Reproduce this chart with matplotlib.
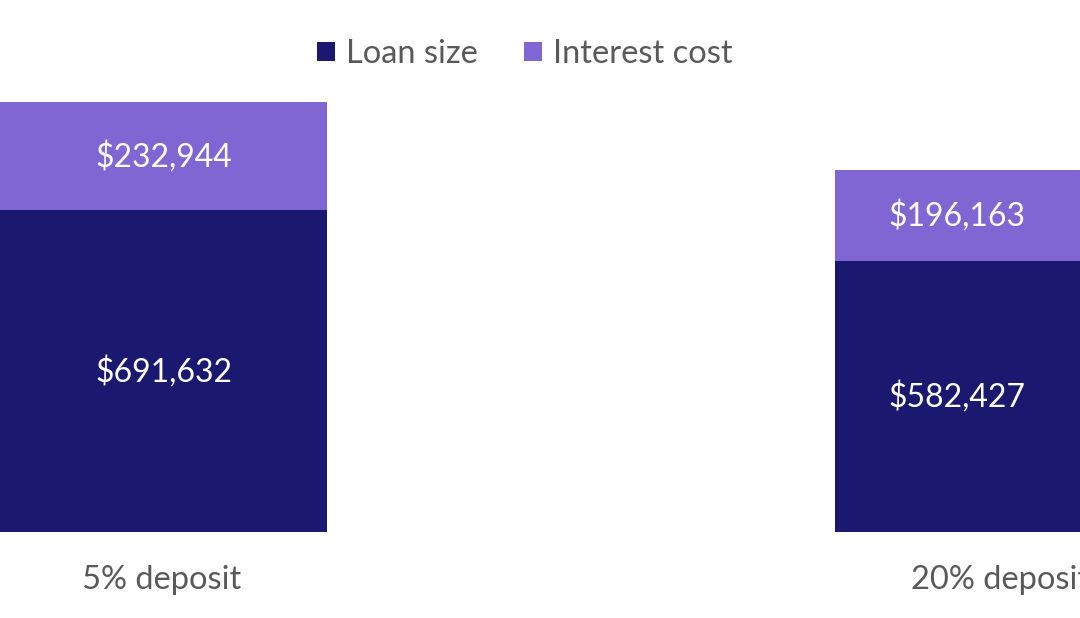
import matplotlib
matplotlib.use('Agg')
import matplotlib.pyplot as plt

plt.rcParams['font.family'] = ['Lato', 'DejaVu Sans']

categories = ['5% deposit', '20% deposit']
loan_size = [691632, 582427]
interest_cost = [232944, 196163]

NAVY = '#1B1870'
PURPLE = '#8066D2'
GRAY = '#595959'

fig = plt.figure(figsize=(10.8, 6.18), dpi=100)
ax = fig.add_axes([0, 86 / 618, 1, 532 / 618])

x = list(range(len(categories)))
b1 = ax.bar(x, loan_size, width=0.394, color=NAVY, label='Loan size')
b2 = ax.bar(x, interest_cost, width=0.394, bottom=loan_size, color=PURPLE,
            label='Interest cost')

for bars in (b1, b2):
    ax.bar_label(bars, labels=[f'${v:,.0f}' for v in bars.datavalues],
                 label_type='center', color='white', fontsize=23)

ax.set_xlim(-0.1933, 1.0955)
ax.set_ylim(0, 1144100)
ax.set_xticks(x)
ax.set_xticklabels(categories, fontsize=23.5, color=GRAY)
ax.tick_params(axis='x', length=0, pad=24)
ax.set_yticks([])
for s in ax.spines.values():
    s.set_visible(False)

fig.legend(handles=[b1, b2], loc='center', bbox_to_anchor=(525 / 1080, 1 - 54 / 618),
           ncol=2, frameon=False, fontsize=23.5, labelcolor=GRAY,
           handlelength=0.55, handleheight=0.55, handletextpad=0.34, columnspacing=1.4)

fig.savefig('out.png', dpi=100, facecolor='white')
